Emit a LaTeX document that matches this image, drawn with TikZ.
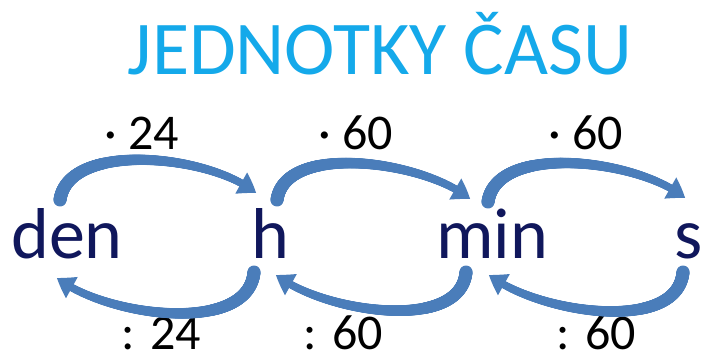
\documentclass[tikz,border=0pt]{standalone}
\usepackage{fontspec}
\setmainfont{Carlito}
\usetikzlibrary{decorations.markings,arrows.meta,bending}
\definecolor{titlecol}{HTML}{14A9EA}
\definecolor{wordcol}{HTML}{10175C}
\definecolor{arrcol}{HTML}{4A7DBA}
\tikzset{
  word/.style={inner sep=0pt, anchor=base, text=wordcol, font=\fontsize{72}{72}\selectfont},
  lab/.style={inner sep=0pt, anchor=base east, text=black, font=\fontsize{50}{50}\selectfont},
  curvarr/.style={draw=arrcol, fill=none, line width=2pt,
    -{Triangle[length=17pt,width=24pt,bend,color=arrcol]},
    postaction={decorate}, decoration={markings,
    mark=between positions 0 and -10pt step 0.5pt with {%
      \pgfmathsetmacro\rr{0.5*(13-6*\pgfkeysvalueof{/pgf/decoration/mark info/distance from start}/\pgfdecoratedpathlength)}%
      \fill[arrcol] (0,0) circle[radius=\rr pt];}}}
}
\begin{document}
\begin{tikzpicture}[x=1pt,y=1pt]
\useasboundingbox (0,0) rectangle (703,356);
\fill[white] (0,0) rectangle (703,356);
% title
\node[inner sep=0pt, anchor=base, text=titlecol, font=\fontsize{76}{76}\selectfont] (title) at (380,281) {JEDNOTKY ČASU};
% units
\node[word] (den) at (67,98) {den};
\node[word] (h) at (270,98) {h};
\node[word] (min) at (492,98) {min};
\node[word] (s) at (689,98) {s};
% labels
\node[lab] (m1) at (179,206) {· 24};
\node[lab] (m2) at (393,206) {· 60};
\node[lab] (m3) at (623,206) {· 60};
\node[lab] (d1) at (201,7) {: 24};
\node[lab] (d2) at (383,7) {: 60};
\node[lab] (d3) at (636,7) {: 60};
% arrow end points
\coordinate (den-t) at (60,156);
\coordinate (h-tin) at (256,163);
\coordinate (h-bout) at (254,84);
\coordinate (den-b) at (57,78);
\coordinate (h-tout) at (277,156);
\coordinate (min-tin) at (470,157);
\coordinate (min-bout) at (466,84);
\coordinate (h-bin) at (276,81);
\coordinate (min-tout) at (488,154);
\coordinate (s-tin) at (685,158);
\coordinate (s-bout) at (683,84);
\coordinate (min-bin) at (489,81);
% arrows
\path[curvarr] (den-t) to[out=82,in=140,looseness=0.78] (h-tin);
\path[curvarr] (h-bout) to[out=-95,in=-38,looseness=0.82] (den-b);
\path[curvarr] (h-tout) to[out=82,in=140,looseness=0.78] (min-tin);
\path[curvarr] (min-bout) to[out=-95,in=-38,looseness=0.82] (h-bin);
\path[curvarr] (min-tout) to[out=82,in=140,looseness=0.78] (s-tin);
\path[curvarr] (s-bout) to[out=-95,in=-38,looseness=0.82] (min-bin);
\end{tikzpicture}
\end{document}
